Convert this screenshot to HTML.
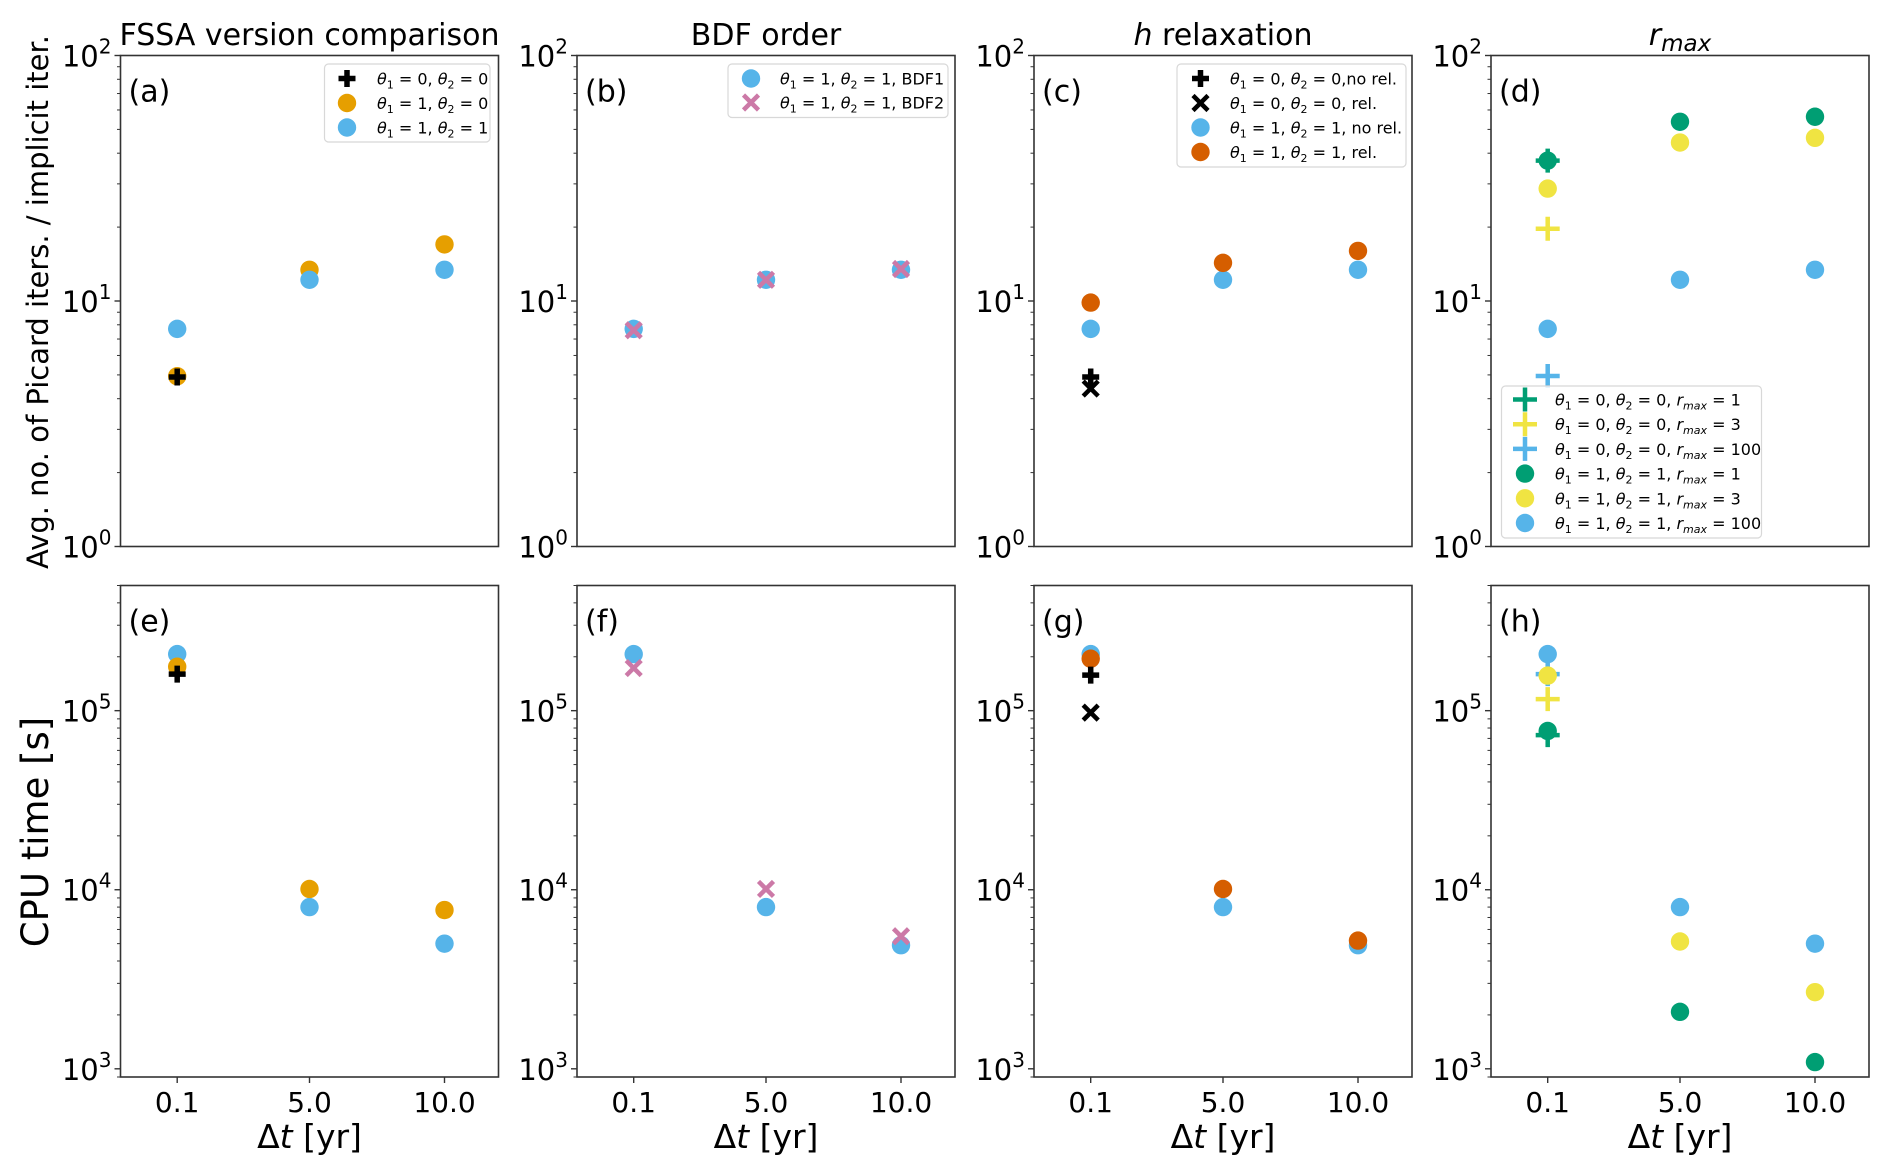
<!DOCTYPE html>
<html><head><meta charset="utf-8">
<style>
html,body{margin:0;padding:0;background:#fff;}
svg{display:block;font-family:"DejaVu Sans","Liberation Sans",sans-serif;}
</style></head>
<body>
<svg id="fig" width="1892" height="1172" viewBox="0 0 1892 1172" xmlns="http://www.w3.org/2000/svg">
<text transform="translate(48,302) rotate(-90)" text-anchor="middle" font-size="29" fill="#000">Avg. no. of Picard iters. / implicit iter.</text>
<text transform="translate(48,832) rotate(-90)" text-anchor="middle" font-size="37" fill="#000">CPU time [s]</text>
</svg>
<script>
// ---- data ----
const dtValues = [0.1, 5.0, 10.0];
const xTickLabels = ["0.1", "5.0", "10.0"];
const topTicks = ["0", "1", "2"];
const botTicks = ["3", "4", "5"];
// panel (a)
const aIterPlus00 = [4.9, null, null];
const aIterCirc10 = [4.94, 13.4, 17.0];
const aIterCirc11 = [7.7, 12.2, 13.4];
// panel (b)
const bIterBDF1 = [7.7, 12.2, 13.4];
const bIterBDF2 = [7.6, 12.2, 13.5];
// panel (c)
const cIterPlusNoRel = [4.9, null, null];
const cIterXRel = [4.4, null, null];
const cIterNoRel = [7.7, 12.2, 13.4];
const cIterRel = [9.85, 14.3, 16.0];
// panel (d)
const dIterPlusR1 = [37.3, null, null];
const dIterPlusR3 = [19.7, null, null];
const dIterPlusR100 = [4.95, null, null];
const dIterCircR1 = [37.3, 53.7, 56.3];
const dIterCircR3 = [28.7, 44.2, 46.2];
const dIterCircR100 = [7.7, 12.2, 13.4];
// panel (e)
const eCpuPlus00 = [1.6e5, null, null];
const eCpuCirc10 = [1.76e5, 1.01e4, 7.7e3];
const eCpuCirc11 = [2.07e5, 8.0e3, 5.0e3];
// panel (f)
const fCpuBDF1 = [2.07e5, 8.0e3, 4.9e3];
const fCpuBDF2 = [1.73e5, 1.01e4, 5.5e3];
// panel (g)
const gCpuPlusNoRel = [1.58e5, null, null];
const gCpuXRel = [9.75e4, null, null];
const gCpuNoRel = [2.07e5, 8.0e3, 4.9e3];
const gCpuRel = [1.95e5, 1.01e4, 5.2e3];
// panel (h)
const hCpuPlusR1 = [7.3e4, null, null];
const hCpuPlusR3 = [1.16e5, null, null];
const hCpuPlusR100 = [1.6e5, null, null];
const hCpuCircR1 = [7.7e4, 2.08e3, 1.09e3];
const hCpuCircR3 = [1.57e5, 5.14e3, 2.68e3];
const hCpuCircR100 = [2.07e5, 8.0e3, 5.0e3];

// ---- layout ----
const NS = "http://www.w3.org/2000/svg";
const svg = document.getElementById("fig");
const LEFTS = [120.5, 577, 1034, 1491];
const W = 378;
const ROWS = [{top:55.5, H:491, lo:0, hi:2}, {top:585.5, H:491.5, lo:Math.log10(900), hi:Math.log10(5e5)}];
const XMIN = -2, XMAX = 12;
const C = {blue:"#56B4E9", orange:"#E69F00", green:"#009E73", yellow:"#F0E442", red:"#D55E00", pink:"#CC79A7", black:"#000"};

function el(tag, attrs, parent){
  const e = document.createElementNS(NS, tag);
  for (const k in attrs) e.setAttribute(k, attrs[k]);
  (parent||svg).appendChild(e);
  return e;
}
function xScale(col, v){ return LEFTS[col] + (v - XMIN) / (XMAX - XMIN) * W; }
function yScale(row, v){ const r = ROWS[row]; return r.top + (r.hi - Math.log10(v)) / (r.hi - r.lo) * r.H; }

function marker(g, type, x, y, color, big){
  if (type === "circle") {
    el("circle", {cx:x, cy:y, r:9.2, fill:color}, g);
  } else if (type === "plus") {
    const h = big ? 12 : 8.5, w = big ? 4.5 : 5.5;
    el("path", {d:`M${x-h},${y}H${x+h}M${x},${y-h}V${y+h}`, stroke:color, "stroke-width":w, fill:"none"}, g);
  } else {
    const h = big ? 8 : 7.5;
    el("path", {d:`M${x-h},${y-h}L${x+h},${y+h}M${x+h},${y-h}L${x-h},${y+h}`, stroke:color, "stroke-width":4.5, fill:"none"}, g);
  }
}

function drawSeries(col, row, values, type, color, name, big){
  const g = el("g", {});
  
  
  values.forEach((v, i) => {
    if (v === null) return;
    const m = el("g", {}, g);
    
    
    marker(m, type, xScale(col, dtValues[i]), yScale(row, v), color, big);
  });
}

function thetaLabel(t, parts){
  const [a, b, suffix, r] = parts;
  const add = (txt, o) => { const s = el("tspan", o||{}, t); s.textContent = txt; return s; };
  add("θ", {"font-style":"italic"});
  add("1", {"font-size":"11", dy:"4"});
  add(" = " + a + ", ", {dy:"-4"});
  add("θ", {"font-style":"italic"});
  add("2", {"font-size":"11", dy:"4"});
  add(" = " + b + (suffix||""), {dy:"-4"});
  if (r !== undefined) {
    add(" r", {"font-style":"italic"});
    add("max", {"font-size":"11", dy:"4", "font-style":"italic"});
    add(" = " + r, {dy:"-4"});
  }
}

function legend(col, box, entries){
  const g = el("g", {});
  
  
  el("rect", {x:box.x, y:box.y, width:box.w, height:box.h, rx:4, fill:"#fff", "fill-opacity":0.85, stroke:"#d8d8d8", "stroke-width":1.2}, g);
  entries.forEach((e, i) => {
    const y = box.y0 + i * box.dy;
    const eg = el("g", {}, g);
    
    
    marker(eg, e.type, box.mx, y, e.color, e.big);
    const t = el("text", {x:box.tx, y:y + 6, "font-size":16, fill:"#000"}, eg);
    thetaLabel(t, e.parts);
  });
}

const titles = ["FSSA version comparison", "BDF order", null, null];
const letters = [["(a)","(b)","(c)","(d)"],["(e)","(f)","(g)","(h)"]];

for (let row = 0; row < 2; row++) {
  const R = ROWS[row];
  const ticks = row === 0 ? topTicks : botTicks;
  for (let col = 0; col < 4; col++) {
    const L = LEFTS[col];
    const ax = el("g", {});
    
    
    el("rect", {x:L, y:R.top, width:W, height:R.H, fill:"none", stroke:"#333", "stroke-width":1.6}, ax);
    const loDec = Math.floor(R.lo), hiDec = Math.ceil(R.hi);
    for (let d = loDec; d <= hiDec; d++) {
      for (let m = 1; m <= 9; m++) {
        const v = m * Math.pow(10, d);
        const lv = Math.log10(v);
        if (lv < R.lo - 1e-9 || lv > R.hi + 1e-9) continue;
        const y = yScale(row, v);
        const len = m === 1 ? 6 : 3.5;
        el("line", {x1:L - len, x2:L, y1:y, y2:y, stroke:"#333", "stroke-width": m === 1 ? 1.4 : 1}, ax);
      }
    }
    ticks.forEach(p => {
      const y = yScale(row, Math.pow(10, +p));
      const t = el("text", {x:L - 9, y:y + 11, "text-anchor":"end", "font-size":29, fill:"#000"}, ax);
      
      
      const s1 = el("tspan", {}, t); s1.textContent = "10";
      const s2 = el("tspan", {"font-size":20, dy:-13}, t); s2.textContent = p;
    });
    if (row === 1) {
      dtValues.forEach((v, i) => {
        const x = xScale(col, v);
        el("line", {x1:x, x2:x, y1:R.top + R.H, y2:R.top + R.H + 6, stroke:"#333", "stroke-width":1.4}, ax);
        const t = el("text", {x:x, y:1112, "text-anchor":"middle", "font-size":28, fill:"#000"}, ax);
        
        
        t.textContent = xTickLabels[i];
      });
      const xl = el("text", {x:L + W/2, y:1148, "text-anchor":"middle", "font-size":33, fill:"#000"}, ax);
      
      
      const a1 = el("tspan", {}, xl); a1.textContent = "Δ";
      const a2 = el("tspan", {"font-style":"italic"}, xl); a2.textContent = "t";
      const a3 = el("tspan", {}, xl); a3.textContent = " [yr]";
    }
    const lt = el("text", {x:L + 8, y:R.top + 46, "font-size":30, fill:"#000"}, ax);
    
    
    lt.textContent = letters[row][col];
    if (row === 0) {
      const tt = el("text", {x:L + W/2, y:45, "text-anchor":"middle", "font-size":30, fill:"#000"}, ax);
      
      
      if (col === 2) {
        const h = el("tspan", {"font-style":"italic"}, tt); h.textContent = "h";
        const r2 = el("tspan", {}, tt); r2.textContent = " relaxation";
      } else if (col === 3) {
        const r = el("tspan", {"font-style":"italic"}, tt); r.textContent = "r";
        const m = el("tspan", {"font-style":"italic", "font-size":23, dy:6}, tt); m.textContent = "max";
      } else tt.textContent = titles[col];
    }
  }
}

drawSeries(0, 0, aIterCirc10, "circle", C.orange, "series-a-theta10");
drawSeries(0, 0, aIterCirc11, "circle", C.blue, "series-a-theta11");
drawSeries(0, 0, aIterPlus00, "plus", C.black, "series-a-theta00");
drawSeries(0, 1, eCpuCirc11, "circle", C.blue, "series-e-theta11");
drawSeries(0, 1, eCpuCirc10, "circle", C.orange, "series-e-theta10");
drawSeries(0, 1, eCpuPlus00, "plus", C.black, "series-e-theta00");
drawSeries(1, 0, bIterBDF1, "circle", C.blue, "series-b-bdf1");
drawSeries(1, 0, bIterBDF2, "x", C.pink, "series-b-bdf2");
drawSeries(1, 1, fCpuBDF1, "circle", C.blue, "series-f-bdf1");
drawSeries(1, 1, fCpuBDF2, "x", C.pink, "series-f-bdf2");
drawSeries(2, 0, cIterNoRel, "circle", C.blue, "series-c-norel");
drawSeries(2, 0, cIterRel, "circle", C.red, "series-c-rel");
drawSeries(2, 0, cIterPlusNoRel, "plus", C.black, "series-c-theta00-norel");
drawSeries(2, 0, cIterXRel, "x", C.black, "series-c-theta00-rel");
drawSeries(2, 1, gCpuNoRel, "circle", C.blue, "series-g-norel");
drawSeries(2, 1, gCpuRel, "circle", C.red, "series-g-rel");
drawSeries(2, 1, gCpuPlusNoRel, "plus", C.black, "series-g-theta00-norel");
drawSeries(2, 1, gCpuXRel, "x", C.black, "series-g-theta00-rel");
drawSeries(3, 0, dIterPlusR100, "plus", C.blue, "series-d-plus-r100", true);
drawSeries(3, 0, dIterCircR100, "circle", C.blue, "series-d-circ-r100");
drawSeries(3, 0, dIterCircR3, "circle", C.yellow, "series-d-circ-r3");
drawSeries(3, 0, dIterPlusR3, "plus", C.yellow, "series-d-plus-r3", true);
drawSeries(3, 0, dIterCircR1, "circle", C.green, "series-d-circ-r1");
drawSeries(3, 0, dIterPlusR1, "plus", C.green, "series-d-plus-r1", true);
drawSeries(3, 1, hCpuPlusR100, "plus", C.blue, "series-h-plus-r100", true);
drawSeries(3, 1, hCpuCircR100, "circle", C.blue, "series-h-circ-r100");
drawSeries(3, 1, hCpuCircR3, "circle", C.yellow, "series-h-circ-r3");
drawSeries(3, 1, hCpuPlusR3, "plus", C.yellow, "series-h-plus-r3", true);
drawSeries(3, 1, hCpuPlusR1, "plus", C.green, "series-h-plus-r1", true);
drawSeries(3, 1, hCpuCircR1, "circle", C.green, "series-h-circ-r1");

legend(0, {x:324.5, y:64, w:165.5, h:78, y0:78.5, dy:24.5, mx:347, tx:377}, [
  {type:"plus", color:C.black, parts:["0","0"]},
  {type:"circle", color:C.orange, parts:["1","0"]},
  {type:"circle", color:C.blue, parts:["1","1"]}]);
legend(1, {x:728, y:64, w:220, h:53.5, y0:78.5, dy:24, mx:751, tx:780}, [
  {type:"circle", color:C.blue, parts:["1","1",", BDF1"]},
  {type:"x", color:C.pink, parts:["1","1",", BDF2"]}]);
legend(2, {x:1177, y:64, w:229, h:103, y0:78.5, dy:24.5, mx:1200.5, tx:1230}, [
  {type:"plus", color:C.black, parts:["0","0",",no rel."]},
  {type:"x", color:C.black, parts:["0","0",", rel."]},
  {type:"circle", color:C.blue, parts:["1","1",", no rel."]},
  {type:"circle", color:C.red, parts:["1","1",", rel."]}]);
legend(3, {x:1501.5, y:386, w:260, h:152, y0:399.5, dy:24.7, mx:1525, tx:1555}, [
  {type:"plus", color:C.green, big:true, parts:["0","0",",","1"]},
  {type:"plus", color:C.yellow, big:true, parts:["0","0",",","3"]},
  {type:"plus", color:C.blue, big:true, parts:["0","0",",","100"]},
  {type:"circle", color:C.green, parts:["1","1",",","1"]},
  {type:"circle", color:C.yellow, parts:["1","1",",","3"]},
  {type:"circle", color:C.blue, parts:["1","1",",","100"]}]);
</script>
</body></html>
